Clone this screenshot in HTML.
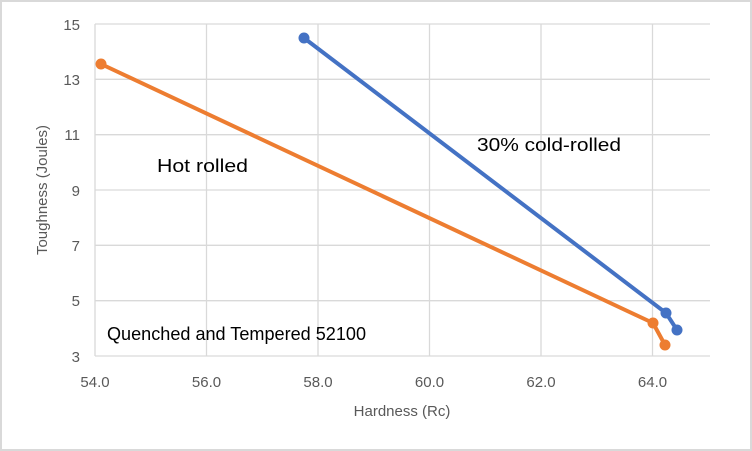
<!DOCTYPE html>
<html><head><style>
body{margin:0;background:#fff}
svg{display:block}
text{font-family:"Liberation Sans",sans-serif;fill:#595959}
</style></head><body>
<svg width="752" height="451" viewBox="0 0 752 451">
<rect x="1" y="1" width="750" height="449" fill="#fff" stroke="#d9d9d9" stroke-width="2"/>
<g stroke="#d9d9d9" stroke-width="1.3">
<line x1="95" y1="24" x2="710" y2="24"/>
<line x1="95" y1="79.3" x2="710" y2="79.3"/>
<line x1="95" y1="134.7" x2="710" y2="134.7"/>
<line x1="95" y1="190" x2="710" y2="190"/>
<line x1="95" y1="245.3" x2="710" y2="245.3"/>
<line x1="95" y1="300.7" x2="710" y2="300.7"/>
<line x1="95" y1="356" x2="710" y2="356"/>
<line x1="95" y1="24" x2="95" y2="356"/>
<line x1="206.5" y1="24" x2="206.5" y2="356"/>
<line x1="318" y1="24" x2="318" y2="356"/>
<line x1="429.5" y1="24" x2="429.5" y2="356"/>
<line x1="541" y1="24" x2="541" y2="356"/>
<line x1="652.5" y1="24" x2="652.5" y2="356"/>
</g>
<g font-size="15" text-anchor="end">
<text x="80" y="30">15</text><text x="80" y="85">13</text><text x="80" y="140">11</text>
<text x="80" y="196">9</text><text x="80" y="251">7</text><text x="80" y="306">5</text><text x="80" y="362">3</text>
</g>
<g font-size="15" text-anchor="middle">
<text x="95" y="387">54.0</text><text x="206.5" y="387">56.0</text><text x="318" y="387">58.0</text>
<text x="429.5" y="387">60.0</text><text x="541" y="387">62.0</text><text x="652.5" y="387">64.0</text>
<text x="402" y="416">Hardness (Rc)</text>
<text transform="translate(47,190) rotate(-90)">Toughness (Joules)</text>
</g>
<polyline points="101,64 653,323 665,345" fill="none" stroke="#ed7d31" stroke-width="4" stroke-linejoin="round"/>
<g fill="#ed7d31"><circle cx="101" cy="64" r="5.5"/><circle cx="653" cy="323" r="5.5"/><circle cx="665" cy="345" r="5.5"/></g>
<polyline points="304,38 666,313 677,330" fill="none" stroke="#4472c4" stroke-width="4" stroke-linejoin="round"/>
<g fill="#4472c4"><circle cx="304" cy="38" r="5.5"/><circle cx="666" cy="313" r="5.5"/><circle cx="677" cy="330" r="5.5"/></g>
<g font-size="18">
<text x="157" y="172" textLength="91" lengthAdjust="spacingAndGlyphs" style="fill:#000">Hot rolled</text>
<text x="477" y="151" textLength="144" lengthAdjust="spacingAndGlyphs" style="fill:#000">30% cold-rolled</text>
<text x="107" y="340" textLength="259" lengthAdjust="spacingAndGlyphs" style="fill:#000">Quenched and Tempered 52100</text>
</g>
</svg>
</body></html>
